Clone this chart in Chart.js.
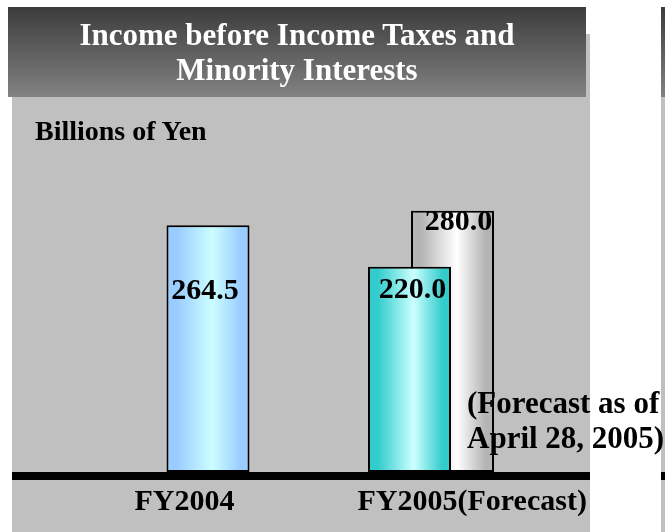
<!DOCTYPE html>
<html>
<head>
<meta charset="utf-8">
<title>Income before Income Taxes and Minority Interests</title>
<script src="https://cdn.jsdelivr.net/npm/chart.js@4.4.1/dist/chart.umd.min.js"></script>
<style>
  html, body { margin: 0; padding: 0; background: #fff; }
  body {
    width: 665px; height: 532px; position: relative; overflow: hidden;
    font-family: 'Liberation Serif', 'Times New Roman', serif; font-weight: bold;
  }
  /* slide panels */
  .panel { position: absolute; left: 12px; top: 34px; width: 578px; height: 498px; background: #c0c0c0; }
  .title-box { position: absolute; left: 8px; top: 7px; width: 578px; height: 90px; background: linear-gradient(#3c3c3c, #828282); }
  .next-panel { position: absolute; left: 661px; top: 34px; width: 10px; height: 498px; background: #c0c0c0; }
  .next-title { position: absolute; left: 661px; top: 7px; width: 10px; height: 90px; background: linear-gradient(#3c3c3c, #828282); }
  #chart { position: absolute; left: 0; top: 0; }
  /* text */
  .title { position: absolute; left: 8px; top: 17px; width: 578px; text-align: center; color: #fff; font-size: 31px; line-height: 35px; }
  .unit { position: absolute; left: 35px; top: 116px; font-size: 28px; line-height: 30px; color: #000; }
  .note { position: absolute; left: 467px; top: 385px; font-size: 31px; line-height: 35px; color: #000; white-space: nowrap; }
</style>
</head>
<body>
<div class="panel"></div>
<div class="title-box"></div>
<div class="next-panel"></div>
<div class="next-title"></div>
<canvas id="chart" width="665" height="532"></canvas>
<div class="title">Income before Income Taxes and<br>Minority Interests</div>
<div class="unit">Billions of Yen</div>
<div class="note">(Forecast as of<br>April 28, 2005)</div>

<script>
// ============================================================
// DATA
// ============================================================
const categories = ['FY2004', 'FY2005(Forecast)'];
const incomeValues = [264.5, 220.0];   // FY2004 result, FY2005 current forecast
const priorForecast = [null, 280.0];   // FY2005 forecast as of April 28, 2005
const valueAxisMax = 300;

const SERIF = "'Liberation Serif', 'Times New Roman', serif";

// ============================================================
// PLUGINS
// ============================================================

// cylinder-like horizontal shading on each bar
const barShading = {
    id: 'barShading',
    beforeDatasetsDraw(chart) {
        const ctx = chart.ctx;
        chart.data.datasets.forEach((ds, di) => {
            chart.getDatasetMeta(di).data.forEach((bar, i) => {
                if (ds.data[i] == null) return;
                const left = bar.x - bar.width / 2;
                const right = bar.x + bar.width / 2;
                const g = ctx.createLinearGradient(left, 0, right, 0);
                g.addColorStop(0, ds.shadeEdge[i]);
                g.addColorStop(0.12, ds.shadeEdge[i]);
                g.addColorStop(0.55, ds.shadeCenter[i]);
                g.addColorStop(0.9, ds.shadeEdge[i]);
                g.addColorStop(1, ds.shadeEdge[i]);
                bar.options = Object.assign({}, bar.options, { backgroundColor: g });
            });
        });
    }
};

// thick black base line across the panel
const baseline = {
    id: 'baseline',
    afterDatasetsDraw(chart) {
        const ctx = chart.ctx;
        const y0 = chart.scales.y.getPixelForValue(0);
        ctx.save();
        ctx.fillStyle = '#000';
        ctx.fillRect(12, y0, 578, 8);
        ctx.fillRect(661, y0, 4, 8);
        ctx.restore();
    }
};

// value written inside each bar
const valueLabels = {
    id: 'valueLabels',
    afterDatasetsDraw(chart) {
        const ctx = chart.ctx;
        ctx.save();
        ctx.font = 'bold 30px ' + SERIF;
        ctx.fillStyle = '#000';
        ctx.textAlign = 'center';
        ctx.textBaseline = 'middle';
        chart.data.datasets.forEach((ds, di) => {
            chart.getDatasetMeta(di).data.forEach((bar, i) => {
                const v = ds.data[i];
                if (v == null) return;
                ctx.fillText(v.toFixed(1), bar.x + ds.labelShift[i], bar.y + ds.labelDrop[i]);
            });
        });
        ctx.restore();
    }
};

// ============================================================
// CHART
// ============================================================
new Chart(document.getElementById('chart'), {
    type: 'bar',
    data: {
        labels: categories,
        datasets: [
            {
                label: 'Results / current forecast',
                data: incomeValues,
                borderColor: '#000',
                backgroundColor: '#ccffff',
                shadeEdge: ['#99ccff', '#33cccc'],
                shadeCenter: ['#ccffff', '#ccffff'],
                labelDrop: [66, 24],
                labelShift: [-3, 3]
            },
            {
                label: 'Forecast as of April 28, 2005',
                data: priorForecast,
                borderColor: '#000',
                backgroundColor: '#ffffff',
                shadeEdge: [null, '#b4b4b4'],
                shadeCenter: [null, '#ffffff'],
                labelDrop: [0, 12],
                labelShift: [0, 6]
            }
        ]
    },
    options: {
        responsive: false,
        animation: false,
        devicePixelRatio: 1,
        layout: { padding: { left: 96.5, right: 122.5, top: 192, bottom: 0 } },
        datasets: {
            bar: {
                skipNull: true,
                categoryPercentage: 0.386,
                barPercentage: 1.95,
                maxBarThickness: 83,
                borderWidth: 2,
                borderSkipped: false
            }
        },
        scales: {
            x: {
                grid: { display: false, drawTicks: false },
                border: { display: false },
                ticks: {
                    color: '#000',
                    font: { family: SERIF, size: 30, weight: 'bold' },
                    padding: 12,
                    maxRotation: 0,
                    autoSkip: false,
                    align: 'start',
                    labelOffset: -73.5
                },
                // labels may run into the side margins; keep the plot width fixed
                afterFit(scale) {
                    scale.paddingLeft = 0;
                    scale.paddingRight = 0;
                }
            },
            y: { display: false, min: 0, max: valueAxisMax }
        },
        plugins: {
            colors: { enabled: false },
            legend: { display: false },
            tooltip: { enabled: false }
        }
    },
    plugins: [barShading, baseline, valueLabels]
});
</script>
</body>
</html>
